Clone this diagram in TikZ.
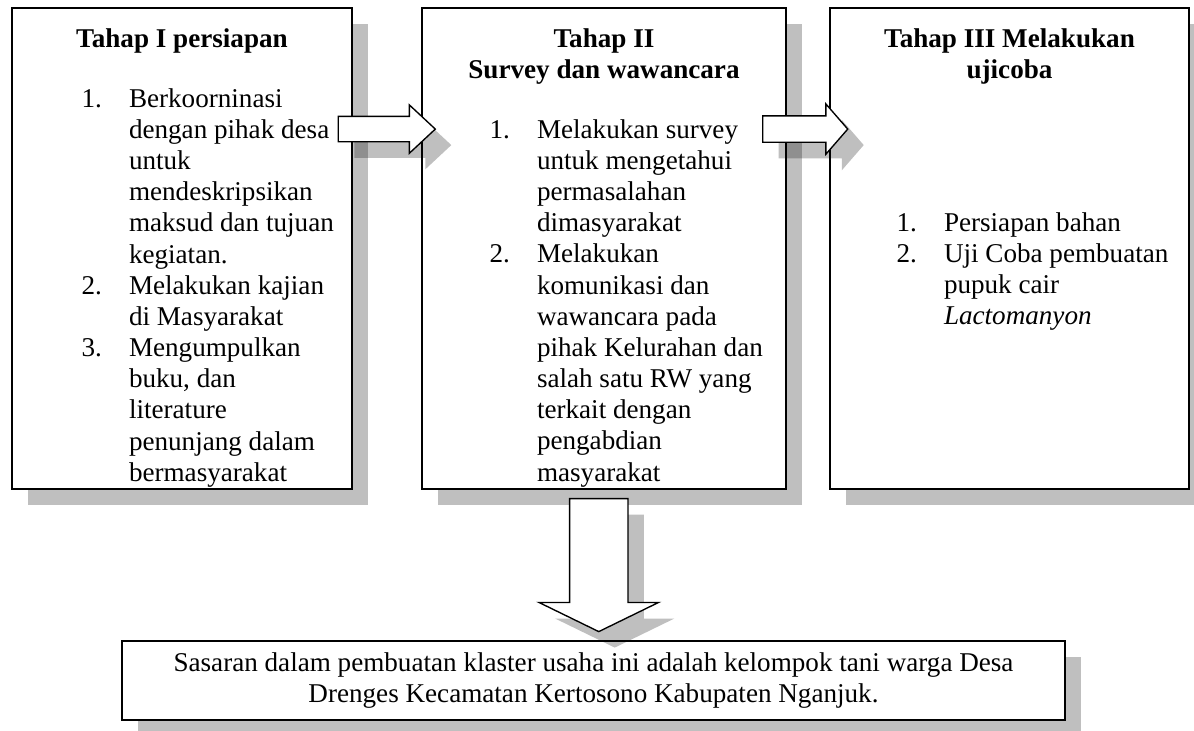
\documentclass[tikz,border=0pt]{standalone}
\usepackage{fontspec}
\setmainfont{Liberation Serif}
\usetikzlibrary{shapes.arrows,shadows,calc}

\newcommand{\upx}{0.4425pt}
\newcommand{\bodyfont}{\fontsize{12pt}{13.8pt}\selectfont}

\tikzset{
  stage/.style={draw, fill=white, line width=0.8pt, inner sep=0pt,
    drop shadow={shadow xshift=16*\upx, shadow yshift=-16*\upx, fill=black, opacity=.25}},
  stagetitle/.style={font=\bodyfont\bfseries, inner sep=0pt, anchor=base},
  steplist/.style={inner sep=0pt, anchor=base west},
  bigarrow/.style={single arrow, draw, fill=white, line width=0.6pt,
    drop shadow={shadow xshift=16*\upx, shadow yshift=-16*\upx, fill=black, opacity=.25}},
}

\begin{document}
\begin{tikzpicture}[x=\upx, y=-\upx, font=\bodyfont]
\useasboundingbox (0,0) rectangle (1194,731);

\node[stage, minimum width=340*\upx, minimum height=481*\upx] (s1) at (182,248.5) {};
\node[stage, minimum width=364*\upx, minimum height=481*\upx] (s2) at (604,248.5) {};
\node[stage, minimum width=359*\upx, minimum height=481*\upx] (s3) at (1009.5,248.5) {};
\node[stage, minimum width=943*\upx, minimum height=79*\upx, align=center] (goal) at (593.5,680.5)
  {Sasaran dalam pembuatan klaster usaha ini adalah kelompok tani warga Desa\\
   Drenges Kecamatan Kertosono Kabupaten Nganjuk.};

\node[stagetitle] (t1) at ([yshift=-40*\upx]s1.north) {Tahap I persiapan};
\node[stagetitle] (t2) at ([yshift=-40*\upx]s2.north)
  {\begin{tabular}[t]{@{}c@{}}Tahap II\\Survey dan wawancara\end{tabular}};
\node[stagetitle] (t3) at ([yshift=-40*\upx]s3.north)
  {\begin{tabular}[t]{@{}c@{}}Tahap III Melakukan\\ujicoba\end{tabular}};

\node[steplist] (l1) at ([xshift=70*\upx, yshift=-100*\upx]s1.north west)
  {\begin{tabular}[t]{@{}p{21pt}@{}l@{}}
  1. & Berkoorninasi\\
     & dengan pihak desa\\
     & untuk\\
     & mendeskripsikan\\
     & maksud dan tujuan\\
     & kegiatan.\\
  2. & Melakukan kajian\\
     & di Masyarakat\\
  3. & Mengumpulkan\\
     & buku, dan\\
     & literature\\
     & penunjang dalam\\
     & bermasyarakat
  \end{tabular}};
\node[steplist] (l2) at ([xshift=68*\upx, yshift=-131*\upx]s2.north west)
  {\begin{tabular}[t]{@{}p{21pt}@{}l@{}}
  1. & Melakukan survey\\
     & untuk mengetahui\\
     & permasalahan\\
     & dimasyarakat\\
  2. & Melakukan\\
     & komunikasi dan\\
     & wawancara pada\\
     & pihak Kelurahan dan\\
     & salah satu RW yang\\
     & terkait dengan\\
     & pengabdian\\
     & masyarakat
  \end{tabular}};
\node[steplist] (l3) at ([xshift=67*\upx, yshift=-224*\upx]s3.north west)
  {\begin{tabular}[t]{@{}p{21pt}@{}l@{}}
  1. & Persiapan bahan\\
  2. & Uji Coba pembuatan\\
     & pupuk cair\\
     & \textit{Lactomanyon}
  \end{tabular}};

\node[bigarrow, inner sep=12*\upx, minimum height=97*\upx,
  single arrow head extend=11.5*\upx, single arrow tip angle=86]
  (a12) at ($(s1.north east)!.5!(s2.north west)+(-7,122)$) {};
\node[bigarrow, inner sep=12.5*\upx, minimum height=85*\upx,
  single arrow head extend=12*\upx, single arrow tip angle=98]
  (a23) at ($(s2.north east)!.5!(s3.north west)+(-8.5,122)$) {};
\node[bigarrow, shape border rotate=270, inner sep=28.5*\upx, minimum height=133*\upx,
  single arrow head extend=30.5*\upx, single arrow tip angle=128]
  (a2g) at ($(s2.south)!.5!(goal.north)+(0,-7)$) {};
\end{tikzpicture}
\end{document}
